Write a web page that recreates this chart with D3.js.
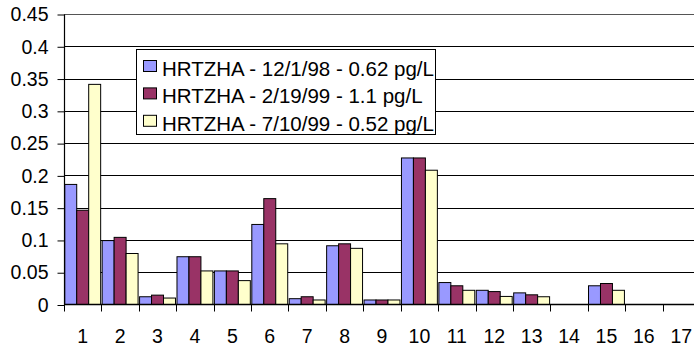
<!DOCTYPE html>
<html>
<head>
<meta charset="utf-8">
<script src="https://cdn.jsdelivr.net/npm/d3@7"></script>
<style>
  html, body { margin: 0; padding: 0; background: #fff; }
  svg { display: block; font-family: "Liberation Sans", Arial, sans-serif; }
</style>
</head>
<body>
<svg id="chart" width="694" height="348"></svg>
<script>
// Congener numbers along the x axis
const categories = ["1","2","3","4","5","6","7","8","9","10","11","12","13","14","15","16","17"];

// Concentrations per sample date
const series1 = [0.186, 0.099, 0.012, 0.074, 0.052, 0.124, 0.009, 0.091, 0.007, 0.227, 0.034, 0.022, 0.018, 0, 0.029, 0, 0];
const series2 = [0.146, 0.104, 0.0145, 0.074, 0.052, 0.164, 0.012, 0.094, 0.007, 0.227, 0.029, 0.020, 0.015, 0, 0.0325, 0, 0];
const series3 = [0.341, 0.079, 0.010, 0.052, 0.037, 0.094, 0.007, 0.087, 0.007, 0.208, 0.022, 0.0125, 0.012, 0, 0.022, 0, 0];

const seriesNames = [
  "HRTZHA - 12/1/98 - 0.62 pg/L",
  "HRTZHA - 2/19/99 - 1.1 pg/L",
  "HRTZHA - 7/10/99 - 0.52 pg/L"
];
const seriesColors = ["#9999FF", "#993366", "#FFFFCC"];
const yTicks = [0, 0.05, 0.1, 0.15, 0.2, 0.25, 0.3, 0.35, 0.4, 0.45];

const allSeries = [series1, series2, series3];

const svg = d3.select("#chart");
const plotLeft = 64, plotRight = 700, plotTop = 14, plotBottom = 304.5;

const x = d3.scaleBand().domain(categories).range([plotLeft, plotRight])
  .paddingInner(0.04).paddingOuter(0.02);
const x1 = d3.scaleBand().domain(d3.range(allSeries.length)).range([0, x.bandwidth()]);
const y = d3.scaleLinear().domain([0, 0.45]).range([plotBottom, plotTop]);

// horizontal gridlines
svg.append("g").selectAll("line").data(yTicks.filter(d => d > 0)).join("line")
  .attr("x1", plotLeft).attr("x2", 694)
  .attr("y1", d => Math.round(y(d)) + 0.5).attr("y2", d => Math.round(y(d)) + 0.5)
  .attr("stroke", d => d === 0.45 ? "#555" : "#000").attr("stroke-width", 1);

// bars
const rows = categories.map((c, i) => allSeries.map((s, k) => ({c, k, v: s[i]})));
svg.append("g").selectAll("g").data(rows).join("g")
  .attr("transform", d => `translate(${x(d[0].c)},0)`)
  .selectAll("rect").data(d => d.filter(e => e.v > 0)).join("rect")
  .attr("x", d => x1(d.k))
  .attr("width", x1.bandwidth())
  .attr("y", d => y(d.v))
  .attr("height", d => y(0) - y(d.v))
  .attr("fill", d => seriesColors[d.k])
  .attr("stroke", "#000").attr("stroke-width", 1);

// y axis
const yAxis = d3.axisLeft(y).tickValues(yTicks).tickSize(7).tickPadding(9)
  .tickFormat(d => String(+d.toFixed(2)));
const gy = svg.append("g").attr("transform", `translate(${plotLeft + 0.5},0.5)`).call(yAxis);
gy.select(".domain").attr("stroke", "#000").attr("d", `M0,${plotTop}V${plotBottom}`).attr("stroke-width", 1.2);
gy.selectAll(".tick line").attr("stroke", "#000");
gy.selectAll(".tick text").attr("font-size", 19.5).attr("fill", "#000")
  .attr("font-family", "'Liberation Sans', Arial, sans-serif");

// x axis line and tick marks at category boundaries
const bounds = categories.map(c => x(c) - x.step() * x.paddingInner() / 2).concat([plotRight]);
svg.append("line").attr("x1", plotLeft).attr("x2", 694)
  .attr("y1", plotBottom).attr("y2", plotBottom).attr("stroke", "#000").attr("stroke-width", 1.5);
svg.append("g").selectAll("line").data(bounds).join("line")
  .attr("x1", d => Math.round(d) + 0.5).attr("x2", d => Math.round(d) + 0.5)
  .attr("y1", plotBottom).attr("y2", plotBottom + 7).attr("stroke", "#000");
svg.append("g").selectAll("text").data(categories).join("text")
  .attr("x", d => x(d) + x.bandwidth() / 2).attr("y", 343)
  .attr("text-anchor", "middle").attr("font-size", 19.5).attr("fill", "#000")
  .text(d => d);

// legend
const lg = svg.append("g");
lg.append("rect").attr("x", 136.5).attr("y", 49.5).attr("width", 299).attr("height", 85)
  .attr("fill", "#fff").attr("stroke", "#000").attr("stroke-width", 1);
seriesNames.forEach((name, k) => {
  const base = 76 + k * 27.4;
  lg.append("rect").attr("x", 143.5).attr("y", base - 15.5).attr("width", 13).attr("height", 11)
    .attr("fill", seriesColors[k]).attr("stroke", "#000").attr("stroke-width", 1);
  lg.append("text").attr("x", 162).attr("y", base).attr("font-size", 20.5).attr("fill", "#000").text(name);
});
</script>
</body>
</html>
